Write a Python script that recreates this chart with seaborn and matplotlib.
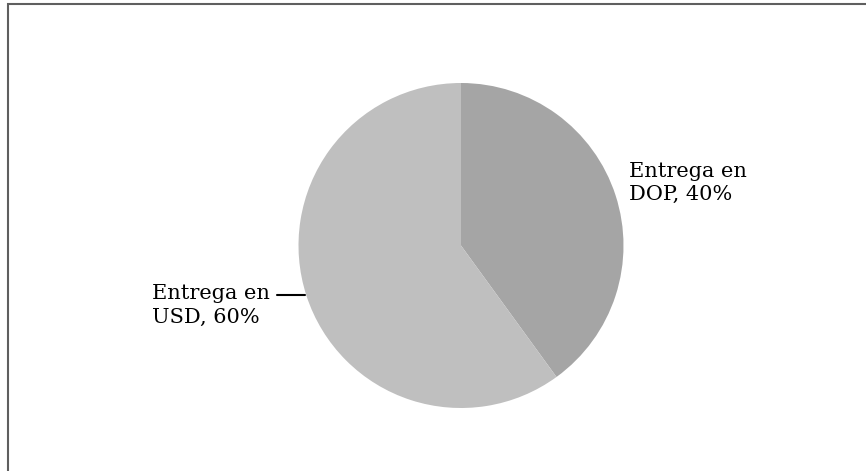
import matplotlib
matplotlib.use("Agg")
import matplotlib.pyplot as plt
import matplotlib.patches as mpatches
import seaborn as sns

labels = ["Entrega en\nDOP, 40%", "Entrega en\nUSD, 60%"]
shares = [40, 60]
colors = ["#a5a5a5", "#bfbfbf"]

sns.set_theme(style="white")
plt.rcParams["font.family"] = ["DejaVu Serif"]

fig = plt.figure(figsize=(8.66, 4.71), dpi=100)
fig.patch.set_facecolor("white")

# frame: only left and top edges are visible in the reference
fig.patches.append(mpatches.Rectangle((8 / 866, -0.2), 1.2, 1.2 - 4 / 471,
                                      transform=fig.transFigure, fill=False,
                                      edgecolor="#5f5f5f", linewidth=1.5))

ax = fig.add_axes([298.5 / 866, 63 / 471, 325 / 866, 325 / 471])
ax.pie(shares, colors=colors, startangle=90, counterclock=False,
       wedgeprops=dict(linewidth=0), radius=1)
ax.set_xlim(-1, 1)
ax.set_ylim(-1, 1)
ax.set_aspect("equal")
ax.axis("off")

ax.text(1.034, 0.385, labels[0], ha="left", va="center", fontsize=15,
        color="black", linespacing=1.3, multialignment="left")
ax.text(-1.175, -0.37, labels[1], ha="right", va="center", fontsize=15,
        color="black", linespacing=1.3, multialignment="left")
ax.plot([-1.132, -0.96], [-0.305, -0.305], color="black", linewidth=1.5,
        clip_on=False)

fig.savefig("out.png", dpi=100, facecolor="white")
